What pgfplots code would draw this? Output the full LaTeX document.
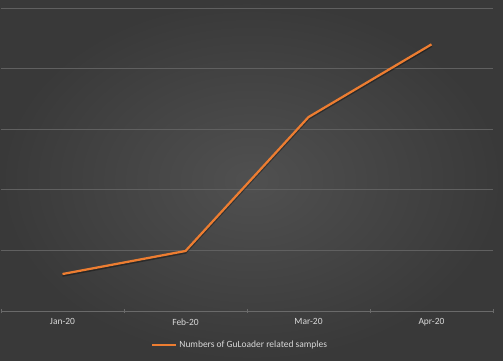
\documentclass[border=0pt]{standalone}
\usepackage{pgfplots}
\pgfplotsset{compat=1.18}
\usepackage{fontspec}
\setmainfont{Carlito}
\definecolor{bgin}{HTML}{505050}
\definecolor{bgout}{HTML}{393939}
\definecolor{gridc}{HTML}{606060}
\definecolor{axc}{HTML}{6A6A6A}
\definecolor{txt}{HTML}{D9D9D9}
\definecolor{ora}{HTML}{ED7D31}
\begin{document}
\begin{tikzpicture}
\useasboundingbox (0,0) rectangle (503bp,361bp);
\shade[inner color=bgin, outer color=bgout] (0,0) rectangle (503bp,361bp);
\begin{axis}[
  at={(1bp,50bp)}, anchor=south west,
  scale only axis, width=492bp, height=303bp,
  xmin=0.5, xmax=4.5, ymin=0, ymax=5,
  axis x line=bottom, axis y line=left,
  x axis line style={-, color=axc, line width=0.75bp},
  y axis line style={draw=none},
  xtick={1,2,3,4},
  xticklabels={Jan-20,Feb-20,Mar-20,Apr-20},
  major x tick style={draw=none},
  minor xtick={0.5,1.5,2.5,3.5,4.5},
  minor x tick style={color=axc, line width=0.75bp},
  minor tick length=3bp,
  tick align=center,
  ytick={1,2,3,4,5},
  yticklabels={},
  major y tick style={draw=none},
  ymajorgrids,
  grid style={color=gridc, line width=0.75bp},
  ticklabel style={font=\fontsize{9.5}{11}\selectfont, text=txt},
  xticklabel style={yshift=-2bp},
  legend style={at={(0.486,-0.112)}, anchor=center, draw=none, fill=none,
    font=\fontsize{9.5}{11}\selectfont, text=txt, legend columns=1,
    /tikz/every even column/.style={column sep=1bp}},
  legend cell align=left,
  legend image code/.code={\draw[#1, line width=2.25bp] (0bp,0bp) -- (24bp,0bp);},
  clip=false,
]
\addplot[forget plot, color=black, opacity=0.35, line width=2.5bp, transform canvas={yshift=-1.5bp}] coordinates {(1,0.61) (2,0.99) (3,3.20) (4,4.40)};
\addplot[color=ora, line width=2.25bp] coordinates {(1,0.61) (2,0.99) (3,3.20) (4,4.40)};
\addlegendentry{Numbers of GuLoader related samples}
\end{axis}
\end{tikzpicture}
\end{document}
